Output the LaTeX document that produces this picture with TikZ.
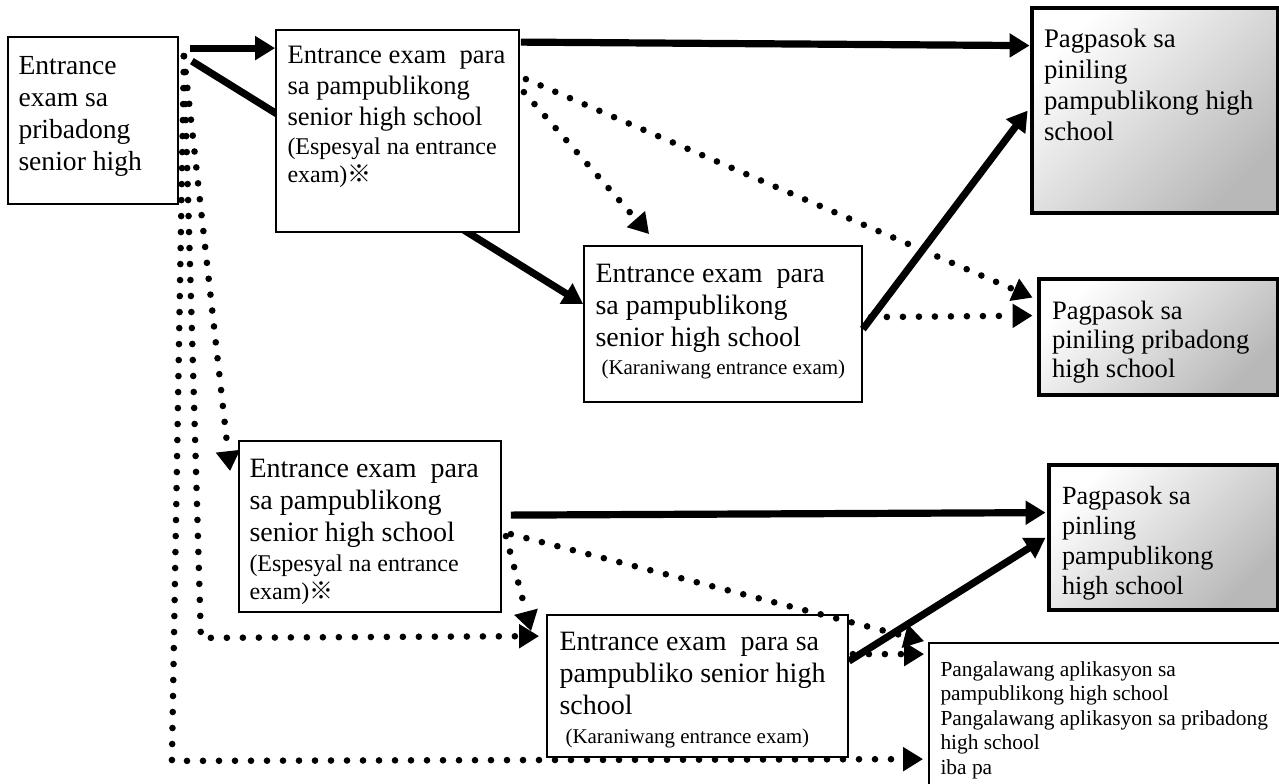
\documentclass[tikz,border=0pt]{standalone}
\usepackage{fontspec}
\setmainfont{Liberation Serif}
\newfontfamily\cjk{Noto Sans CJK JP}
\usetikzlibrary{arrows.meta,calc,positioning}
\newcommand{\smalltxt}{\fontsize{12}{14}\selectfont}
\newcommand{\tinytxt}{\fontsize{10.5}{14}\selectfont}

\tikzset{
  box/.style={draw, fill=white, line width=0.9pt, inner sep=0pt},
  goal/.style={draw, line width=2.4pt, inner sep=0pt, top color=white, bottom color=black!28, shading angle=45},
  txt/.style={inner sep=0pt, anchor=north west, align=left, font=\rmfamily\fontsize{13.4}{15.4}\selectfont},
  solidarrow/.style={line width=3.6pt, -{Triangle[length=10pt,width=11.5pt]}},
  dotarrow/.style={line width=3.3pt, line cap=round, dash pattern=on 0pt off 8pt, -{Triangle[length=10pt,width=11.5pt]}},
}

\begin{document}
\begin{tikzpicture}[x=0.5pt,y=-0.5pt]
\useasboundingbox (0,0) rectangle (1279,783);

% exam boxes
\node[box, minimum width=85pt, minimum height=83.5pt] (privExam) at (93,120.5) {};
\node[txt, font=\rmfamily\fontsize{13.8}{16}\selectfont] at ($(privExam.north west)+(11,20)$) {Entrance\\exam sa\\pribadong\\senior high};
\node[box, minimum width=139pt, minimum height=78pt] (pubRegA) at (723,324) {};
\node[txt, font=\rmfamily\fontsize{14}{16}\selectfont] at ($(pubRegA.north west)+(12,19)$) {Entrance exam\ \ para\\sa pampublikong\\senior high school\\[-2pt]\tinytxt\hspace{3pt}(Karaniwang entrance exam)};

% this one runs behind the next box
\draw[solidarrow] ($(privExam.north east)+(13,25)$) -- ($(pubRegA.north west)+(0,59)$);

\node[box, minimum width=121.5pt, minimum height=101pt] (pubSpecA) at (397.5,131) {};
\node[txt, font=\rmfamily\fontsize{13.3}{15.3}\selectfont] at ($(pubSpecA.north west)+(12,17)$) {Entrance exam\ \ para\\sa pampublikong\\senior high school\\[-0.5pt]\smalltxt(Espesyal na entrance\\[-1.5pt]\smalltxt exam){\cjk ※}};
\node[box, minimum width=131pt, minimum height=85.5pt] (pubSpecB) at (370,526.5) {};
\node[txt, font=\rmfamily\fontsize{14}{15.8}\selectfont] at ($(pubSpecB.north west)+(11,19)$) {Entrance exam\ \ para\\sa pampublikong\\senior high school\\[-0.5pt]\smalltxt(Espesyal na entrance\\[-1.8pt]\smalltxt exam){\cjk ※}};
\node[box, minimum width=150.5pt, minimum height=71pt] (pubRegB) at (697.5,686) {};
\node[txt, font=\rmfamily\fontsize{14}{15.8}\selectfont] at ($(pubRegB.north west)+(13,18)$) {Entrance exam\ \ para sa\\pampubliko senior high\\school\\[-1pt]\tinytxt\hspace{3pt}(Karaniwang entrance exam)};

% result boxes
\node[goal, minimum width=123pt, minimum height=102.5pt] (pubHSA) at (1155,110.5) {};
\node[txt] at ($(pubHSA.north west)+(14,23)$) {Pagpasok sa\\piniling\\pampublikong high\\school};
\node[goal, minimum width=119.5pt, minimum height=58pt] (privHS) at (1158.5,337) {};
\node[txt, font=\rmfamily\fontsize{13.3}{14.6}\selectfont] at ($(privHS.north west)+(15,24)$) {Pagpasok sa\\piniling pribadong\\high school};
\node[goal, minimum width=114.5pt, minimum height=72.5pt] (pubHSB) at (1163.5,537.5) {};
\node[txt, font=\rmfamily\fontsize{13.1}{15}\selectfont] at ($(pubHSB.north west)+(15,23)$) {Pagpasok sa\\pinling\\pampublikong\\high school};
\node[box, minimum width=180.5pt, minimum height=78.5pt] (secondApp) at (1109.5,721.5) {};
\node[txt, font=\rmfamily\fontsize{10.7}{12.25}\selectfont] at ($(secondApp.north west)+(12,19)$) {Pangalawang aplikasyon sa\\pampublikong high school\\Pangalawang aplikasyon sa pribadong\\high school\\iba pa};

% arrows
\coordinate (aSplit) at ($(privExam.north east)+(5,20)$);
\draw[solidarrow] ($(privExam.north east)+(11,12)$) -- ($(pubSpecA.north west)+(0,19)$);
\draw[solidarrow] ($(pubSpecA.north east)+(1,13)$) -- ($(pubHSA.north west)+(0,40)$);
\draw[dotarrow] ($(pubSpecA.north east)+(4,63)$) -- ($(pubRegA.north west)+(66,-11)$);
\draw[dotarrow] ($(pubSpecA.north east)+(6,50)$) -- ($(privHS.north west)+(-4,21)$);
\draw[solidarrow] ($(pubRegA.north east)+(0,84)$) -- ($(pubHSA.north west)+(-2,105)$);
\draw[dotarrow] ($(pubRegA.north east)+(8,72)$) -- ($(privHS.north west)+(-4,39)$);
\draw[solidarrow] ($(pubSpecB.north east)+(9,75)$) -- ($(pubHSB.north west)+(-1,50)$);
\draw[dotarrow] ($(pubSpecB.north east)+(9,94)$) -- ($(secondApp.north west)+(-4,-1)$);
\draw[dotarrow] ($(pubSpecB.north east)+(4,96)$) -- ($(pubRegB.north west)+(-15,17)$);
\draw[solidarrow] ($(pubRegB.north east)+(0,47)$) -- ($(pubHSB.north west)+(-1,75)$);
\draw[dotarrow] ($(pubRegB.north east)+(4,40)$) -- ($(secondApp.north west)+(-4,12)$);
\draw[dotarrow] (aSplit) -- ($(privExam.south east)+(-7,556)$) -- ($(secondApp.north west)+(-5,117)$);
\draw[dotarrow] (aSplit) -- ($(privExam.south east)+(22,433)$) -- ($(pubRegB.north west)+(-7,22)$);
\draw[dotarrow] (aSplit) -- ($(pubSpecB.north west)+(-8,31)$);
\end{tikzpicture}
\end{document}
